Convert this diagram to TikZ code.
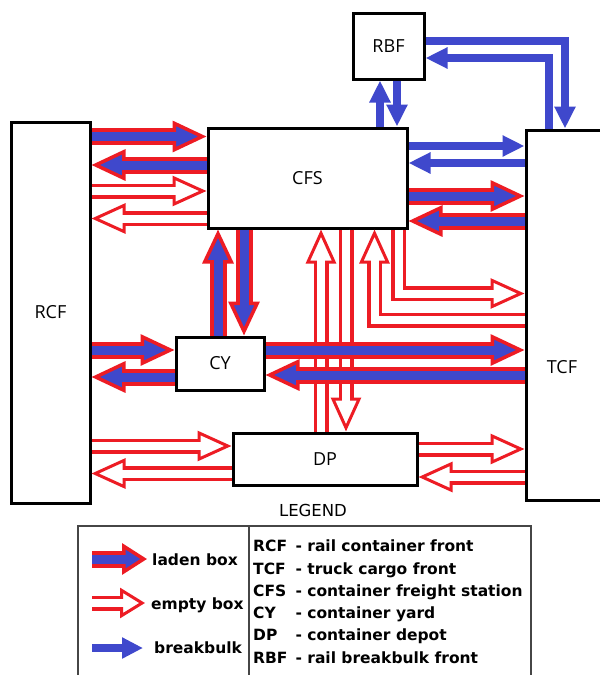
\documentclass[tikz,border=0pt]{standalone}
\usepackage{fontspec}
\usetikzlibrary{arrows.meta}
\setmainfont{DejaVu Sans}
\newfontfamily\boxfont{Open Sans}
\definecolor{mpred}{RGB}{237,28,36}
\definecolor{mpblue}{RGB}{63,72,204}
\definecolor{tablegray}{RGB}{70,70,70}

\tikzset{
  box/.style={draw, line width=3pt, fill=white, inner sep=0pt,
    font=\boxfont\fontsize{18}{20}\selectfont},
  boxlabel/.style={inner sep=0pt, font=\boxfont\fontsize{18}{20}\selectfont},
  ladenbody/.style={draw=mpred, line width=17pt,
    -{Triangle[length=#1, width=31pt, line width=3.5pt, fill=mpblue]}},
  ladenbody/.default=34pt,
  ladencore/.style={draw=mpblue, line width=9pt, shorten >=#1},
  ladencore/.default=28pt,
  emptybody/.style={draw=mpred, line width=15pt,
    -{Triangle[length=#1, width=30pt, line width=3pt, fill=white]}},
  emptybody/.default=34pt,
  emptycore/.style={draw=white, line width=8pt, shorten >=#1},
  emptycore/.default=28pt,
  bulk/.style={draw=mpblue, line width=8pt, -{Triangle[length=#1, width=20pt]}},
  bulk/.default=22pt,
  legendtext/.style={inner sep=0pt, font=\bfseries\fontsize{15.5}{22.3}\selectfont},
  tableline/.style={draw=tablegray, line width=1.5pt},
}
\newcommand\ladenarr[1]{\draw[ladenbody] #1; \draw[ladencore] #1;}
\newcommand\emptyarr[1]{\draw[emptybody] #1; \draw[emptycore] #1;}

\begin{document}
\begin{tikzpicture}[x=1pt, y=-1pt]
\useasboundingbox (0,0) rectangle (600,675);

% the fronts and stations
\node[box, minimum width=79pt, minimum height=381pt] (rcf) at (50.5,312.5) {RCF};
\node[box, minimum width=84pt, minimum height=370pt] (tcf) at (568,315) {};
\node[boxlabel] (tcflabel) at (562,367) {TCF};
\node[box, minimum width=199pt, minimum height=100pt] (cfs) at (307.5,178) {CFS};
\node[box, minimum width=71pt, minimum height=66pt] (rbf) at (388.5,46) {RBF};
\node[box, minimum width=88pt, minimum height=53pt] (cy) at (220,363.5) {CY};
\node[box, minimum width=184pt, minimum height=52pt] (dp) at (325,459) {DP};

% RBF <-> CFS, RBF <-> TCF
\draw[bulk] (380,0 |- cfs.north) -- (380,0 |- rbf.south);
\draw[bulk] (397,0 |- rbf.south) -- (397,0 |- cfs.north);
\draw[bulk] (rbf.east |- 0,41) -| (565,0 |- tcf.north);
\draw[bulk] (549,0 |- tcf.north) |- (rbf.east |- 0,58);

% RCF <-> CFS
\ladenarr{(rcf.east |- 0,136.5) -- (cfs.west |- 0,136.5)}
\ladenarr{(cfs.west |- 0,165) -- (rcf.east |- 0,165)}
\emptyarr{(rcf.east |- 0,191) -- (cfs.west |- 0,191)}
\emptyarr{(cfs.west |- 0,218.5) -- (rcf.east |- 0,218.5)}

% CFS <-> TCF
\draw[bulk] (cfs.east |- 0,146) -- (tcf.west |- 0,146);
\draw[bulk] (tcf.west |- 0,163) -- (cfs.east |- 0,163);
\ladenarr{(cfs.east |- 0,196) -- (tcf.west |- 0,196)}
\ladenarr{(tcf.west |- 0,221) -- (cfs.east |- 0,221)}
\emptyarr{(398.5,0 |- cfs.south) |- (tcf.west |- 0,293.5)}
\emptyarr{(tcf.west |- 0,320) -| (374.5,0 |- cfs.south)}

% CY <-> CFS
\ladenarr{(218,0 |- cy.north) -- (218,0 |- cfs.south)}
\ladenarr{(244,0 |- cfs.south) -- (244,0 |- cy.north)}

% DP <-> CFS
\emptyarr{(321,0 |- dp.north) -- (321,0 |- cfs.south)}
\emptyarr{(346,0 |- cfs.south) -- (346,0 |- dp.north)}

% CY <-> RCF, CY <-> TCF
\ladenarr{(rcf.east |- 0,350) -- (cy.west |- 0,350)}
\ladenarr{(cy.west |- 0,377) -- (rcf.east |- 0,377)}
\ladenarr{(cy.east |- 0,350) -- (tcf.west |- 0,350)}
\ladenarr{(tcf.west |- 0,375) -- (cy.east |- 0,375)}

% DP <-> RCF, DP <-> TCF
\emptyarr{(rcf.east |- 0,446) -- (dp.west |- 0,446)}
\emptyarr{(dp.west |- 0,473.5) -- (rcf.east |- 0,473.5)}
\emptyarr{(dp.east |- 0,449) -- (tcf.west |- 0,449)}
\emptyarr{(tcf.west |- 0,477) -- (dp.east |- 0,477)}

% legend
\node[inner sep=0pt, font=\fontsize{16.5}{18}\selectfont] (legendtitle) at (313,510) {LEGEND};
\node[tableline, minimum width=453pt, minimum height=170pt] (legend) at (304.5,611) {};
\draw[tableline] (249,0 |- legend.north) -- (249,0 |- legend.south);

\coordinate (ladenA) at (92,559);
\coordinate (ladenB) at (147,559);
\coordinate (emptyA) at (92,603);
\coordinate (emptyB) at (145,603);
\coordinate (bulkA) at (92,648);
\coordinate (bulkB) at (143,648);
\draw[ladenbody=25pt] (ladenA) -- (ladenB);
\draw[ladencore=20pt] (ladenA) -- (ladenB);
\draw[emptybody=25pt] (emptyA) -- (emptyB);
\draw[emptycore=20pt] (emptyA) -- (emptyB);
\draw[bulk=21pt] (bulkA) -- (bulkB);

\node[legendtext, anchor=base west] (ladenlabel) at (152,565) {laden box};
\node[legendtext, anchor=base west] (emptylabel) at (151,609) {empty box};
\node[legendtext, anchor=base west] (bulklabel) at (154,653.5) {breakbulk};

\node[legendtext, anchor=base west] (abbrev) at (253,551.7) {%
  \begin{tabular}[t]{@{}l@{\hspace{8pt}}l@{}}
  RCF & - rail container front\\
  TCF & - truck cargo front\\
  CFS & - container freight station\\
  CY  & - container yard\\
  DP  & - container depot\\
  RBF & - rail breakbulk front
  \end{tabular}};
\end{tikzpicture}
\end{document}
